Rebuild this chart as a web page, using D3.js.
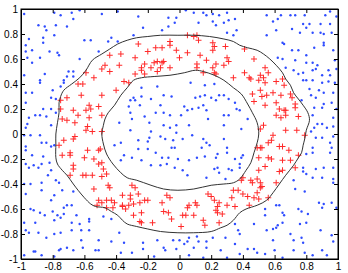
<!DOCTYPE html>
<html>
<head>
<meta charset="utf-8">
<script src="https://cdn.jsdelivr.net/npm/d3@7"></script>
<style>
  body { margin: 0; background: #fff; }
  text { font-family: "Liberation Sans", Arial, sans-serif; font-size: 10px; fill: #000; }
</style>
</head>
<body>
<div id="chart"></div>
<script>
// class -1 samples (blue dots)
const blueDots = [
  [-0.98,0.96],[-0.79,0.97],[-0.75,0.95],[-0.68,0.97],[-0.63,0.99],[-0.49,0.96],[-0.39,0.98],[-0.89,0.87],[-0.85,0.86],[-0.78,0.87],
  [-0.71,0.86],[-0.67,0.92],[-0.84,0.83],[-0.79,0.79],[-0.86,0.77],[-0.95,0.76],[-0.97,0.71],[-0.86,0.73],[-0.60,0.75],[-0.56,0.75],
  [-0.43,0.77],[-0.45,0.74],[-0.39,0.74],[-0.97,0.66],[-0.93,0.67],[-0.82,0.66],[-0.77,0.65],[-0.76,0.63],[-0.51,0.66],[-0.96,0.61],
  [-0.88,0.61],[-0.93,0.57],[-0.63,0.60],[-0.98,0.47],[-0.85,0.48],[-0.70,0.50],[-0.67,0.50],[-0.71,0.46],[-0.73,0.43],[-0.67,0.46],
  [-0.88,0.43],[-0.88,0.41],[-0.73,0.41],[-0.97,0.33],[-0.93,0.33],[-0.80,0.35],[-0.75,0.38],[-0.81,0.29],[-0.78,0.28],[-0.97,0.25],
  [-0.86,0.20],[-0.81,0.20],[-0.78,0.17],[-0.88,0.15],[-0.84,0.14],[-0.91,0.15],[-0.95,0.13],[-0.96,0.08],[-0.97,0.05],[-0.81,0.07],
  [-0.38,0.09],
  [-0.26,0.94],[-0.07,0.93],[-0.02,0.93],[0.04,0.99],[0.09,0.97],[0.15,0.97],[0.17,0.95],[0.21,0.96],[0.25,0.95],[0.30,0.97],
  [-0.23,0.85],[-0.11,0.83],[-0.07,0.86],[-0.03,0.89],[0.12,0.89],[0.21,0.90],[0.23,0.87],[0.28,0.89],[0.31,0.91],[0.30,0.81],
  [-0.29,0.79],[-0.24,0.37],[-0.14,0.38],[0.07,0.41],[0.16,0.39],[0.22,0.40],[-0.29,0.29],[-0.31,0.27],[-0.28,0.27],[-0.24,0.30],
  [-0.18,0.28],[-0.25,0.23],[-0.32,0.22],[-0.10,0.31],[-0.05,0.30],[0.10,0.29],[0.13,0.30],[0.16,0.31],[0.20,0.29],[0.25,0.31],
  [0.28,0.31],[0.23,0.27],[0.31,0.28],[0.15,0.23],[-0.12,0.23],[0.03,0.22],[0.05,0.19],[0.08,0.20],[0.12,0.21],[0.17,0.19],
  [-0.31,0.17],[-0.22,0.14],[-0.15,0.17],[-0.10,0.17],[-0.06,0.15],[0.01,0.15],[0.18,0.12],[0.28,0.15],[0.31,0.15],[-0.30,0.12],
  [-0.19,0.09],[-0.10,0.07],[-0.06,0.05],[-0.02,0.07],[0.06,0.07],[0.28,0.07],[-0.31,0.03],[-0.18,0.02],[-0.02,0.01],
  [0.35,0.92],[0.55,0.95],[0.59,0.90],[0.62,0.92],[0.64,0.95],[0.70,0.95],[0.73,0.95],[0.79,0.95],[0.95,0.98],[0.92,0.95],
  [0.99,0.94],[0.82,0.88],[0.89,0.88],[0.78,0.88],[0.95,0.88],[0.71,0.84],[0.80,0.85],[0.76,0.81],[0.84,0.81],[0.89,0.81],
  [0.91,0.80],[0.96,0.81],[0.55,0.79],[0.61,0.83],[0.36,0.83],[0.34,0.79],[0.65,0.73],[0.66,0.72],[0.91,0.73],[0.91,0.71],
  [0.85,0.69],[0.71,0.67],[0.75,0.67],[0.97,0.67],[0.80,0.63],[0.65,0.60],[0.62,0.61],[0.73,0.59],[0.84,0.57],[0.80,0.57],
  [0.87,0.55],[0.98,0.59],[0.67,0.53],[0.72,0.51],[0.78,0.49],[0.84,0.51],[0.86,0.52],[0.94,0.51],[0.99,0.52],[0.75,0.48],
  [0.90,0.47],[0.95,0.47],[0.78,0.43],[0.80,0.43],[0.84,0.43],[0.90,0.41],[0.94,0.42],[0.98,0.41],[0.82,0.36],[0.88,0.35],
  [0.91,0.33],[0.97,0.33],[0.83,0.31],[0.86,0.29],[0.77,0.27],[0.96,0.25],[0.91,0.24],[0.85,0.21],[0.90,0.21],[0.99,0.20],
  [0.84,0.15],[0.97,0.13],[0.87,0.08],[0.90,0.08],[0.93,0.05],[0.97,0.06],[0.85,0.05],[0.83,0.02],
  [0.36,0.20],[0.43,0.12],[0.39,0.04],[0.35,0.25],[0.38,0.19],
  [-0.98,-0.01],[-0.94,-0.01],[-0.88,-0.01],[-0.97,-0.10],[-0.97,-0.13],[-0.87,-0.07],[-0.84,-0.07],[-0.79,-0.09],[-0.93,-0.17],[-0.86,-0.18],
  [-0.81,-0.10],[-0.97,-0.24],[-0.95,-0.27],[-0.92,-0.25],[-0.89,-0.27],[-0.87,-0.24],[-0.82,-0.23],[-0.81,-0.29],[-0.98,-0.40],[-0.94,-0.40],
  [-0.83,-0.33],[-0.78,-0.37],[-0.76,-0.39],[-0.87,-0.39],[-0.97,-0.48],[-0.87,-0.45],[-0.79,-0.49],[-0.74,-0.45],[-0.67,-0.46],[-0.81,-0.53],
  [-0.71,-0.57],[-0.73,-0.59],[-0.68,-0.57],[-0.94,-0.60],[-0.92,-0.61],[-0.88,-0.63],[-0.85,-0.65],[-0.80,-0.62],[-0.77,-0.65],[-0.75,-0.67],
  [-0.73,-0.64],[-0.65,-0.65],[-0.57,-0.68],[-0.57,-0.70],[-0.48,-0.66],[-0.43,-0.68],[-0.98,-0.71],[-0.91,-0.71],[-0.79,-0.69],[-0.68,-0.71],
  [-0.63,-0.72],[-0.97,-0.77],[-0.95,-0.79],[-0.89,-0.79],[-0.84,-0.83],[-0.75,-0.79],[-0.79,-0.80],[-0.68,-0.77],[-0.62,-0.77],[-0.57,-0.77],
  [-0.38,-0.79],[-0.43,-0.86],[-0.76,-0.93],[-0.75,-0.92],[-0.71,-0.91],[-0.67,-0.93],[-0.61,-0.91],[-0.53,-0.93],[-0.51,-0.93],[-0.92,-0.94],
  [-0.91,-0.94],[-0.98,-0.97],[-0.87,-0.97],[-0.79,-0.98],[-0.62,-0.85],[-0.51,-0.85],[-0.35,-0.87],[-0.37,-0.95],
  [-0.41,-0.09],[-0.37,-0.21],[-0.35,-0.17],[-0.37,-0.07],
  [-0.26,-0.05],[-0.19,-0.03],[-0.20,-0.06],[-0.12,-0.02],[-0.09,-0.04],[-0.04,-0.05],[0.02,-0.04],[0.08,-0.01],[0.15,-0.04],[0.28,-0.04],
  [0.17,-0.07],[-0.26,-0.12],[-0.20,-0.12],[-0.15,-0.15],[-0.05,-0.11],[-0.03,-0.11],[0.14,-0.11],[0.19,-0.09],[0.30,-0.11],[0.30,-0.15],
  [0.24,-0.16],[-0.30,-0.19],[-0.24,-0.21],[-0.11,-0.19],[-0.08,-0.24],[-0.07,-0.19],[-0.01,-0.20],[0.06,-0.21],[0.11,-0.19],[0.16,-0.18],
  [0.23,-0.19],[-0.18,-0.25],[-0.12,-0.25],[-0.03,-0.27],[0.02,-0.29],[0.22,-0.28],[0.24,-0.27],[0.31,-0.28],[0.05,-0.33],[0.17,-0.35],
  [0.29,-0.36],[0.25,-0.31],[0.33,-0.29],
  [-0.23,-0.87],[-0.14,-0.85],[-0.04,-0.85],[0.00,-0.85],[0.05,-0.86],[0.06,-0.83],[0.11,-0.82],[0.12,-0.86],[0.17,-0.86],[0.21,-0.83],
  [0.29,-0.83],[0.03,-0.88],[-0.30,-0.95],[-0.23,-0.92],[-0.10,-0.91],[-0.09,-0.93],[-0.02,-0.92],[0.09,-0.91],[0.17,-0.91],[0.26,-0.93],
  [-0.16,-0.98],[0.06,-0.97],[0.15,-0.99],[0.30,-0.99],
  [0.35,-0.20],[0.38,-0.24],[0.39,-0.19],[0.38,-0.27],[0.40,-0.17],
  [0.86,-0.03],[0.90,-0.03],[0.97,-0.02],[0.95,-0.07],[0.96,-0.11],[0.84,-0.11],[0.84,-0.15],[0.80,-0.16],[0.95,-0.15],[0.78,-0.27],
  [0.78,-0.30],[0.80,-0.32],[0.86,-0.28],[0.91,-0.27],[0.97,-0.27],[0.84,-0.35],[0.90,-0.35],[0.97,-0.36],[0.97,-0.39],[0.72,-0.37],
  [0.73,-0.44],[0.79,-0.46],[0.88,-0.55],[0.91,-0.56],[0.90,-0.59],[0.96,-0.55],[0.61,-0.57],[0.63,-0.57],[0.75,-0.60],[0.54,-0.60],
  [0.54,-0.65],[0.65,-0.63],[0.66,-0.65],[0.77,-0.62],[0.81,-0.64],[0.99,-0.59],[0.35,-0.72],[0.47,-0.72],[0.59,-0.76],[0.61,-0.75],
  [0.62,-0.73],[0.65,-0.71],[0.76,-0.72],[0.80,-0.71],[0.89,-0.77],[0.96,-0.81],[0.37,-0.77],[0.38,-0.80],[0.55,-0.77],[0.70,-0.80],
  [0.77,-0.83],[0.59,-0.85],[0.72,-0.85],[0.78,-0.87],[0.97,-0.86],[0.35,-0.88],[0.43,-0.92],[0.47,-0.92],[0.49,-0.95],[0.54,-0.96],
  [0.60,-0.93],[0.72,-0.93],[0.79,-0.95],[0.84,-0.97],[0.90,-0.93],[0.93,-0.97],[0.65,-0.99],[0.38,-0.96]
]

// class +1 samples (red crosses)
const redPlus = [
  [-0.44,0.63],[-0.37,0.64],[-0.47,0.55],[-0.44,0.50],[-0.49,0.52],[-0.38,0.55],[-0.59,0.49],[-0.54,0.45],[-0.61,0.40],[-0.64,0.40],
  [-0.35,0.42],[-0.40,0.35],[-0.49,0.31],[-0.62,0.31],[-0.71,0.29],[-0.75,0.27],[-0.57,0.23],[-0.51,0.22],[-0.67,0.19],[-0.75,0.20],
  [-0.59,0.19],[-0.56,0.20],[-0.64,0.15],[-0.57,0.13],[-0.49,0.15],[-0.74,0.12],[-0.71,0.11],[-0.66,0.09],[-0.58,0.06],[-0.59,0.03],
  [-0.55,0.02],[-0.49,0.02],
  [-0.26,0.72],[-0.06,0.74],[-0.06,0.71],[0.05,0.79],[0.09,0.78],[0.11,0.79],[0.12,0.75],[0.21,0.73],[0.22,0.70],[0.21,0.67],
  [0.29,0.70],[-0.20,0.66],[-0.15,0.69],[-0.11,0.69],[-0.02,0.67],[0.05,0.65],[0.13,0.63],[-0.28,0.61],[0.00,0.61],[0.17,0.59],
  [0.30,0.61],[0.31,0.58],[-0.22,0.56],[-0.16,0.57],[-0.14,0.58],[-0.11,0.57],[-0.10,0.58],[0.11,0.56],[0.23,0.56],[0.28,0.55],
  [-0.24,0.53],[-0.18,0.53],[-0.12,0.53],[-0.06,0.53],[0.11,0.53],[0.21,0.53],[-0.24,0.51],[-0.14,0.50],[-0.28,0.48],[-0.22,0.48],
  [0.15,0.49],[0.22,0.49],[0.23,0.48],[-0.32,0.41],
  [0.41,0.68],[0.47,0.60],[0.41,0.49],[0.44,0.45],[0.45,0.44],[0.51,0.47],[0.54,0.53],[0.56,0.49],[0.53,0.45],[0.50,0.43],
  [0.54,0.41],[0.61,0.42],[0.65,0.44],[0.66,0.39],[0.46,0.32],[0.51,0.35],[0.52,0.30],[0.55,0.31],[0.59,0.33],[0.64,0.31],
  [0.70,0.32],[0.71,0.29],[0.47,0.26],[0.61,0.25],[0.73,0.24],[0.54,0.23],[0.63,0.20],[0.66,0.19],[0.67,0.19],[0.73,0.21],
  [0.61,0.15],[0.64,0.13],[0.67,0.15],[0.75,0.14],[0.53,0.07],[0.51,0.04],[0.67,0.03],[0.74,0.03],[0.34,0.45],
  [-0.76,-0.09],[-0.74,-0.17],[-0.73,-0.05],[-0.69,-0.15],[-0.69,-0.17],[-0.67,-0.04],[-0.66,-0.02],[-0.58,-0.13],[-0.60,-0.19],[-0.54,-0.20],
  [-0.51,-0.13],[-0.50,-0.12],[-0.51,-0.24],[-0.49,-0.23],[-0.67,-0.25],[-0.67,-0.28],[-0.48,-0.28],[-0.69,-0.33],[-0.61,-0.33],[-0.59,-0.33],
  [-0.55,-0.33],[-0.49,-0.34],[-0.46,-0.32],[-0.54,-0.44],[-0.45,-0.41],[-0.44,-0.43],[-0.36,-0.49],[-0.51,-0.53],[-0.49,-0.55],[-0.52,-0.57],
  [-0.46,-0.53],[-0.43,-0.53],[-0.41,-0.55],[-0.36,-0.58],[-0.46,-0.59],[-0.42,-0.59],[-0.36,-0.57],[-0.34,-0.60],
  [-0.30,-0.41],[-0.28,-0.43],[-0.31,-0.49],[-0.26,-0.48],[-0.31,-0.52],[-0.29,-0.56],[-0.32,-0.57],[-0.25,-0.55],[-0.22,-0.53],[-0.20,-0.53],
  [-0.29,-0.65],[-0.24,-0.63],[-0.25,-0.70],[-0.24,-0.71],[-0.17,-0.71],[-0.11,-0.55],[-0.10,-0.62],[-0.07,-0.63],[-0.08,-0.49],[-0.06,-0.51],
  [-0.05,-0.68],[0.02,-0.65],[0.01,-0.74],[0.05,-0.59],[0.06,-0.57],[0.04,-0.65],[0.09,-0.65],[0.10,-0.55],[0.11,-0.57],[0.15,-0.69],
  [0.16,-0.73],[0.18,-0.48],[0.20,-0.50],[0.22,-0.53],[0.24,-0.58],[0.23,-0.61],[0.24,-0.63],[0.25,-0.55],[0.27,-0.64],[0.30,-0.57],
  [0.33,-0.51],[0.25,-0.71],
  [0.56,-0.07],[0.58,-0.05],[0.59,-0.01],[0.63,-0.10],[0.65,-0.10],[0.69,-0.13],[0.49,-0.11],[0.51,-0.11],[0.52,-0.11],[0.79,-0.01],
  [0.75,-0.17],[0.50,-0.19],[0.56,-0.19],[0.58,-0.20],[0.65,-0.21],[0.70,-0.21],[0.54,-0.26],[0.50,-0.29],[0.65,-0.29],[0.73,-0.27],
  [0.63,-0.30],[0.40,-0.35],[0.39,-0.37],[0.45,-0.37],[0.46,-0.39],[0.49,-0.36],[0.51,-0.39],[0.51,-0.43],[0.52,-0.42],[0.61,-0.39],
  [0.37,-0.45],[0.40,-0.48],[0.43,-0.50],[0.49,-0.47],[0.47,-0.51],[0.50,-0.52],[0.56,-0.51],[0.35,-0.58],[0.44,-0.57],[0.34,-0.45]
]

// decision boundary, outer and inner closed contours
const outerBoundary = [
  [-0.33,0.75],[-0.27,0.77],[-0.20,0.78],[-0.12,0.79],[-0.01,0.79],[0.09,0.79],[0.19,0.78],[0.28,0.76],[0.34,0.74],
  [0.38,0.71],[0.43,0.69],[0.49,0.67],[0.53,0.64],[0.57,0.60],[0.61,0.55],[0.65,0.49],[0.67,0.44],[0.70,0.39],[0.72,0.33],
  [0.75,0.28],[0.78,0.23],[0.81,0.17],[0.82,0.11],[0.80,0.03],[0.79,-0.04],[0.78,-0.09],[0.77,-0.15],[0.75,-0.19],[0.72,-0.25],
  [0.67,-0.33],[0.63,-0.40],[0.59,-0.47],[0.55,-0.53],[0.49,-0.57],[0.42,-0.60],[0.38,-0.63],[0.34,-0.69],
  [0.30,-0.73],[0.26,-0.75],[0.20,-0.78],[0.09,-0.79],[-0.01,-0.79],[-0.12,-0.78],[-0.20,-0.76],[-0.27,-0.74],[-0.33,-0.72],
  [-0.36,-0.69],[-0.39,-0.65],[-0.43,-0.62],[-0.47,-0.59],[-0.53,-0.58],[-0.56,-0.56],[-0.60,-0.51],[-0.64,-0.45],[-0.67,-0.40],
  [-0.71,-0.33],[-0.74,-0.29],[-0.77,-0.24],[-0.78,-0.19],[-0.78,-0.08],[-0.78,0.0],[-0.77,0.09],[-0.76,0.17],[-0.76,0.25],
  [-0.75,0.30],[-0.73,0.35],[-0.68,0.40],[-0.63,0.45],[-0.59,0.51],[-0.55,0.59],[-0.49,0.64],[-0.44,0.68],[-0.39,0.72]
]
const innerBoundary = [
  [-0.33,0.37],[-0.29,0.43],[-0.24,0.45],[-0.16,0.46],[-0.06,0.47],[0.03,0.49],[0.10,0.51],[0.15,0.50],[0.22,0.47],[0.28,0.43],
  [0.34,0.37],[0.39,0.32],[0.43,0.24],[0.46,0.17],[0.49,0.09],[0.50,0.0],[0.49,-0.07],[0.47,-0.15],[0.45,-0.23],[0.42,-0.29],
  [0.38,-0.36],[0.34,-0.39],[0.28,-0.40],[0.20,-0.41],[0.09,-0.44],[-0.01,-0.45],[-0.10,-0.44],[-0.18,-0.41],[-0.27,-0.37],
  [-0.33,-0.35],[-0.37,-0.31],[-0.42,-0.24],[-0.46,-0.16],[-0.48,-0.08],[-0.49,0.0],[-0.48,0.07],[-0.47,0.12],[-0.45,0.17],
  [-0.41,0.23],[-0.37,0.31]
]

const xTicks = [-1, -0.8, -0.6, -0.4, -0.2, 0, 0.2, 0.4, 0.6, 0.8, 1]
const yTicks = [-1, -0.8, -0.6, -0.4, -0.2, 0, 0.2, 0.4, 0.6, 0.8, 1]

const W = 348
const H = 273
const margin = { top: 9, right: 10, bottom: 14, left: 21 }
const w = W - margin.left - margin.right
const h = H - margin.top - margin.bottom

const x = d3.scaleLinear().domain([-1, 1]).range([0, w])
const y = d3.scaleLinear().domain([-1, 1]).range([h, 0])
const fmt = d => d === 0 ? '0' : String(+d.toFixed(1))

const svg = d3.select('#chart').append('svg')
  .attr('width', W)
  .attr('height', H)
const g = svg.append('g')
  .attr('transform', `translate(${margin.left},${margin.top})`)

// blue dots
g.append('g')
  .selectAll('circle')
  .data(blueDots)
  .enter()
  .append('circle')
  .attr('cx', d => x(d[0]))
  .attr('cy', d => y(d[1]))
  .attr('r', 1.2)
  .attr('fill', '#2f4dff')

// red crosses
const s = 3
g.append('g')
  .selectAll('path')
  .data(redPlus)
  .enter()
  .append('path')
  .attr('d', d => {
    const cx = x(d[0])
    const cy = y(d[1])
    return `M${cx - s},${cy}H${cx + s}M${cx},${cy - s}V${cy + s}`
  })
  .attr('stroke', '#ff2a2a')
  .attr('stroke-width', 1)
  .attr('fill', 'none')

// boundaries
const line = d3.line()
  .x(d => x(d[0]))
  .y(d => y(d[1]))
  .curve(d3.curveCatmullRomClosed)
g.selectAll('.boundary')
  .data([outerBoundary, innerBoundary])
  .enter()
  .append('path')
  .attr('class', 'boundary')
  .attr('d', line)
  .attr('fill', 'none')
  .attr('stroke', '#333')
  .attr('stroke-width', 1)

// axes, ticks inside like matlab
const tickLen = 4
g.append('g')
  .attr('transform', `translate(0,${h})`)
  .call(d3.axisBottom(x).tickValues(xTicks).tickSize(-tickLen).tickPadding(4).tickFormat(fmt))
g.append('g')
  .call(d3.axisTop(x).tickValues(xTicks).tickSize(-tickLen).tickFormat(''))
g.append('g')
  .call(d3.axisLeft(y).tickValues(yTicks).tickSize(-tickLen).tickPadding(3).tickFormat(fmt))
g.append('g')
  .attr('transform', `translate(${w},0)`)
  .call(d3.axisRight(y).tickValues(yTicks).tickSize(-tickLen).tickFormat(''))
g.selectAll('.domain').attr('stroke', '#000')
g.selectAll('.tick line').attr('stroke', '#000')
g.selectAll('.tick text').style('font-size', '10px')

g.append('rect')
  .attr('width', w)
  .attr('height', h)
  .attr('fill', 'none')
  .attr('stroke', '#000')
  .attr('stroke-width', 1)
</script>
</body>
</html>
